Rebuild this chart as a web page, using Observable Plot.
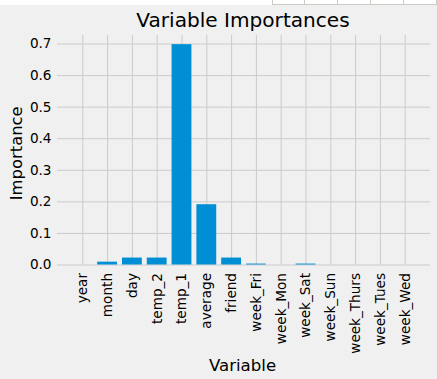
<!DOCTYPE html>
<html>
<head>
<meta charset="utf-8">
<script src="https://cdn.jsdelivr.net/npm/d3@7"></script>
<script src="https://cdn.jsdelivr.net/npm/@observablehq/plot@0.6"></script>
<style>
  html, body { margin: 0; padding: 0; background: #f0f0f0; }
  #wrap { position: relative; width: 437px; height: 379px; overflow: hidden; }
  #strip { position: absolute; left: 0; top: 0; width: 437px; height: 5px; background: #ffffff; }
  .cell { position: absolute; top: 0; height: 4px; border-left: 1px solid #c9cdc6; border-bottom: 1px solid #c9cdc6; }
</style>
</head>
<body>
<div id="wrap"></div>
<script>
const categories = ["year","month","day","temp_2","temp_1","average","friend","week_Fri","week_Mon","week_Sat","week_Sun","week_Thurs","week_Tues","week_Wed"];
const importances = [0, 0.009, 0.022, 0.022, 0.698, 0.191, 0.022, 0.003, 0, 0.003, 0, 0, 0, 0];
const yTicks = [0, 0.1, 0.2, 0.3, 0.4, 0.5, 0.6, 0.7];
const titleText = "Variable Importances";
const xLabel = "Variable";
const yLabel = "Importance";

const data = categories.map((name, i) => ({name, value: importances[i]}));
const font = "DejaVu Sans";

const chart = Plot.plot({
  width: 437,
  height: 379,
  marginLeft: 57,
  marginRight: 7,
  marginTop: 35,
  marginBottom: 114.5,
  style: {background: "#f0f0f0", fontFamily: font, fontSize: "13.6px", color: "#000"},
  x: {type: "band", domain: categories, paddingInner: 0.2, paddingOuter: 0.62, align: 0.5, round: false},
  y: {domain: [0, 0.727]},
  marks: [
    Plot.gridY(yTicks, {stroke: "#cbcbcb", strokeOpacity: 1, strokeWidth: 1}),
    Plot.gridX(categories, {stroke: "#cbcbcb", strokeOpacity: 1, strokeWidth: 1}),
    Plot.barY(data, {x: "name", y: "value", fill: "#008fd5"}),
    Plot.axisY(yTicks, {tickSize: 0, tickPadding: 6, tickFormat: d3.format(".1f"), label: null, fontSize: 13.6, fill: "#000"}),
    Plot.axisX({tickSize: 0, tickPadding: 8, tickRotate: -90, label: null, fontSize: 13.6, fill: "#000"}),
    Plot.text([titleText], {frameAnchor: "top", dx: -1, dy: -8.3, lineAnchor: "bottom", textAnchor: "middle", fontSize: 20.1, fill: "#000"}),
    Plot.text([xLabel], {frameAnchor: "bottom", dx: -1.5, dy: 106.2, lineAnchor: "bottom", textAnchor: "middle", fontSize: 16.6, fill: "#000"}),
    Plot.text([yLabel], {frameAnchor: "left", dx: -36, dy: 3, rotate: -90, lineAnchor: "bottom", textAnchor: "middle", fontSize: 16.4, fill: "#000"})
  ]
});

const wrap = document.getElementById("wrap");
wrap.appendChild(chart);
const strip = document.createElement("div");
strip.id = "strip";
wrap.appendChild(strip);
const cellEdges = [272, 304, 337, 370, 403, 436];
for (let i = 0; i < cellEdges.length; i++) {
  const c = document.createElement("div");
  c.className = "cell";
  c.style.left = cellEdges[i] + "px";
  c.style.width = (i < cellEdges.length - 1 ? cellEdges[i + 1] - cellEdges[i] - 1 : 0) + "px";
  wrap.appendChild(c);
}
</script>
</body>
</html>
